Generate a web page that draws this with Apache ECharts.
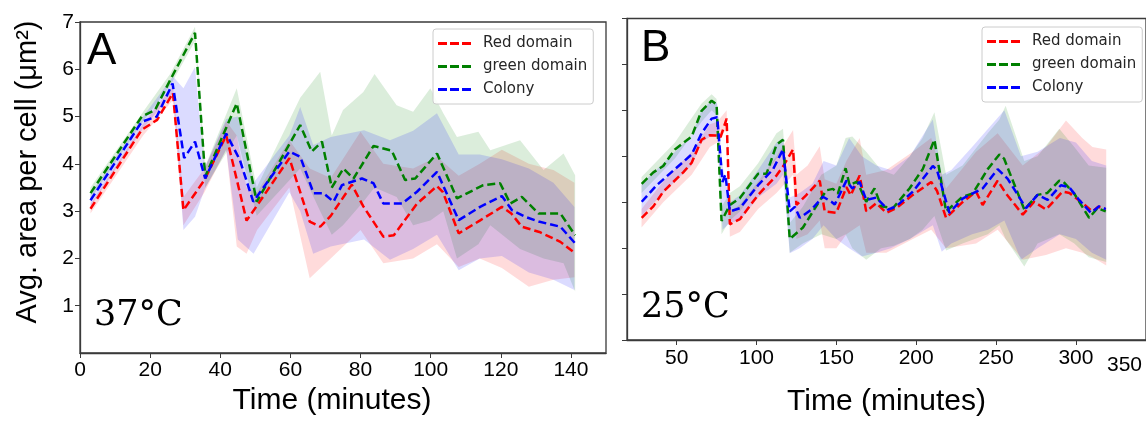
<!DOCTYPE html>
<html><head><meta charset="utf-8">
<script src="https://cdn.jsdelivr.net/npm/echarts@6/dist/echarts.min.js"></script>
<style>html,body{margin:0;padding:0;background:#fff}#c{width:1146px;height:422px}</style>
</head><body><div id="c"></div>
<script>
// ---------- Panel A (37°C) mean curves [time, area] ----------
const redA = [[3,3.05],[17.6,4.72],[22,4.93],[26.5,5.5],[29.5,3.02],[35.5,3.66],[41.7,4.6],[47.5,2.8],[50.5,3.12],[59.7,4.12],[65.5,2.78],[68.5,2.67],[71.5,2.9],[77.5,3.56],[80.8,3.1],[86.5,2.46],[89.5,2.49],[96,3.15],[101.8,3.53],[103.5,3.4],[108,2.53],[114,2.8],[120.3,3.09],[123,2.95],[126,2.67],[131,2.56],[137,2.35],[141,2.12]];
const greenA = [[3,3.38],[17.6,5.0],[21.4,5.14],[25.7,5.77],[32.8,6.77],[35.7,3.73],[44.7,5.28],[50.4,3.2],[62.8,4.82],[66.1,4.26],[69,4.47],[71.8,3.5],[75.1,3.9],[78,3.69],[83.7,4.38],[88.9,4.28],[92.7,3.66],[95.6,3.69],[101.8,4.22],[107.5,3.27],[115,3.55],[119.8,3.59],[122.7,3.16],[126,3.3],[130.8,2.95],[137,2.95],[141.2,2.49]];
const blueA = [[3,3.23],[17.6,4.89],[21.9,5.0],[26.4,5.7],[29.7,4.12],[32.8,4.47],[35.7,3.69],[41.7,4.64],[45.6,4.08],[49.4,3.2],[59.7,4.26],[62.8,4.15],[66.6,3.38],[69.4,3.38],[72.3,3.2],[74.7,3.55],[80.4,3.69],[83.7,3.59],[86.5,3.16],[91.8,3.16],[96.1,3.41],[101.8,3.83],[108,2.81],[114.1,3.09],[120.3,3.32],[123.2,3.02],[127,2.88],[130.8,2.78],[137,2.67],[141.2,2.32]];

// ---------- Panel A spread bands ----------
const redBandA_t  = [3, 18, 26.5, 29.5, 35.5, 41.7, 44.7, 47.5, 50.5, 59.7, 65.5, 71.5, 80, 86.5, 95, 101.8, 108, 114, 120.3, 128, 135, 141];
const redBandA_lo = [2.95,4.6,5.35,2.7,3.4,4.3,2.25,2.1,2.6,3.5,1.58,2.0,2.6,1.9,2.0,2.3,1.82,2.0,1.8,1.4,1.55,1.6];
const redBandA_hi = [3.15,4.85,5.65,3.3,3.9,4.9,4.6,3.5,3.4,4.5,3.9,3.7,4.68,4.0,3.9,4.15,3.75,4.0,4.3,4.0,3.87,3.6];

const blueBandA_t  = [3, 18, 26.5, 29.5, 32.8, 35.5, 41.7, 45, 49.5, 59.7, 62.8, 66.5, 71.5, 81, 88.4, 95, 101.8, 108, 114, 120.3, 128, 135, 141];
const blueBandA_lo = [3.1,4.75,5.5,2.6,2.88,3.45,4.3,2.4,2.1,3.4,3.0,2.1,2.25,2.4,1.97,2.2,2.5,1.75,2.0,2.05,1.7,1.55,1.33];
const blueBandA_hi = [3.35,5.0,5.85,5.6,6.05,3.9,4.95,5.0,3.6,4.6,5.2,4.4,4.57,4.71,4.5,4.7,5.07,4.2,4.2,4.1,3.9,3.6,3.09];

const greenBandA_t  = [3, 18, 25.7, 32.8, 35.7, 44.7, 50.4, 62.8, 68.5, 71.8, 75, 80.8, 84, 90.3, 95, 99.9, 103.6, 107.5, 113.6, 117, 125.5, 132.2, 137.9, 141.2];
const greenBandA_lo = [3.25,4.9,5.65,6.6,3.5,4.6,2.9,3.9,3.0,2.5,2.7,3.2,3.5,3.3,2.7,2.8,3.0,2.0,2.3,2.7,2.2,2.0,1.9,1.3];
const greenBandA_hi = [3.5,5.1,5.9,6.9,3.95,5.6,3.5,5.4,5.95,4.6,5.14,5.52,5.9,5.24,5.1,5.6,5.07,4.57,4.68,4.29,4.5,3.87,4.22,3.76];

// ---------- Panel B (25°C) mean curves ----------
const redB = [[28.1,2.66],[35.4,2.91],[41.6,3.23],[54.1,3.65],[59.4,3.86],[65.6,4.36],[70.8,4.46],[75.4,4.45],[77.5,4.42],[81.3,4.82],[83.3,2.52],[89.6,2.63],[101,3.16],[112.5,3.58],[117,3.8],[122.9,4.15],[125,2.94],[131,3.15],[139.6,3.47],[142.7,2.8],[150,2.77],[156.3,3.33],[159,3.15],[164.6,3.58],[168.7,2.8],[175,2.98],[181.3,2.77],[187.5,2.87],[197.9,3.16],[209.4,3.44],[213,3.25],[218.7,2.66],[229,3.0],[237.5,3.23],[241.6,2.94],[251,3.47],[256,3.2],[266.7,2.73],[273.9,3.01],[281.3,2.84],[291.6,3.23],[296,3.2],[304.1,2.98],[310.4,2.8],[314,2.9],[318.7,2.85]];
const greenB = [[28.1,3.4],[35.4,3.65],[41.6,3.79],[48.9,4.15],[59.4,4.43],[65.6,4.99],[71.9,5.21],[75,5.13],[78.1,2.59],[83.3,2.94],[89.6,3.09],[101,3.62],[106.3,3.62],[112.5,4.25],[116.6,4.36],[120.8,2.2],[129.1,2.45],[140.6,3.09],[143.8,3.26],[147.9,3.29],[151,3.19],[155.8,3.74],[158.3,3.37],[163,3.45],[168.7,3.01],[173.9,3.3],[178.1,2.91],[185.4,2.87],[195.8,3.3],[204.1,3.72],[211.4,4.36],[218.7,2.8],[229.1,3.12],[235.4,3.19],[244.8,3.72],[252.1,4.04],[255,3.95],[267.7,2.84],[276,3.16],[282,3.2],[289.6,3.47],[292,3.45],[298.9,3.19],[308.3,2.66],[313.5,2.87],[318.7,2.8]];
const blueB = [[28.1,3.01],[37.5,3.37],[48.9,3.72],[59.4,4.04],[65.6,4.5],[71.9,4.82],[75.4,4.85],[78.7,3.44],[80.5,3.6],[83.3,2.8],[89.6,2.87],[101,3.37],[110.4,3.72],[116.6,4.15],[120.8,2.8],[124,2.9],[127.1,2.66],[134.4,2.84],[141.6,3.12],[146.9,3.01],[149,2.95],[156.3,3.47],[160,3.3],[164.6,3.44],[168.7,3.05],[174.9,3.1],[182.3,2.84],[187.5,2.91],[197.9,3.23],[210.4,3.79],[213,3.7],[220.8,2.77],[229.1,3.08],[235.4,3.19],[241.6,3.3],[251,3.72],[257.3,3.51],[268.8,2.87],[276,3.16],[282.3,3.05],[290.6,3.37],[295.8,3.33],[302,3.05],[309.4,2.77],[314.6,2.91],[318.7,2.85]];

// ---------- Panel B spread bands ----------
const blueBandB_t  = [28, 41.6, 59.4, 65.6, 71.9, 75.4, 78.7, 83.3, 89.6, 101, 112.5, 116.6, 120.8, 127, 135, 142, 150, 158, 166, 175, 184, 196, 210.4, 216, 222, 235, 245, 255.2, 265.6, 276, 290, 300, 310, 319];
const blueBandB_lo = [2.7,3.2,3.8,4.3,4.45,4.5,2.4,2.55,2.6,3.1,3.4,3.6,1.89,2.0,2.2,2.5,2.2,2.0,1.82,1.9,2.0,2.2,2.5,1.92,2.1,2.3,2.4,2.6,1.75,2.0,2.3,2.2,1.9,1.75];
const blueBandB_hi = [3.4,3.85,4.45,5.0,5.22,5.15,3.8,3.0,3.15,3.7,4.3,4.4,3.1,3.2,3.4,3.9,3.8,4.4,4.0,3.8,3.7,4.0,4.8,3.6,3.7,4.2,4.6,5.0,4.0,4.1,4.4,4.3,3.9,3.8];

const greenBandB_t  = [28, 48.9, 65.6, 71.9, 75, 78.1, 83.3, 89.6, 101, 112.5, 116.6, 120.8, 129, 140.6, 150, 155.8, 160, 168.7, 178, 186, 196, 204, 211.4, 218.7, 229, 244.8, 252.1, 256, 267.7, 276, 289.6, 299, 308, 319];
const greenBandB_lo = [3.2,3.95,4.75,5.0,4.9,2.3,2.6,2.8,3.35,3.95,4.05,1.9,2.1,2.3,2.2,2.3,2.0,1.75,2.0,2.05,2.2,2.4,2.7,1.95,2.1,2.3,2.5,2.2,1.6,2.1,2.3,2.1,1.8,1.7];
const greenBandB_hi = [3.55,4.3,5.15,5.35,5.25,2.9,3.2,3.35,3.85,4.5,4.6,2.55,2.9,3.6,3.8,4.4,4.43,4.1,3.7,3.6,4.0,4.4,4.96,3.6,3.8,4.5,4.8,5.1,3.9,4.0,4.6,4.2,3.8,3.75];

const redBandB_t  = [28, 41.6, 59.4, 70.8, 75.4, 81.3, 83.3, 89.6, 101, 112.5, 122.9, 125, 132, 139.6, 142.7, 150, 156.3, 164.6, 168.7, 181.3, 197.9, 209.4, 218.7, 237.5, 251, 266.7, 281.3, 293.8, 304, 310.4, 319];
const redBandB_lo = [2.45,3.0,3.6,4.2,4.3,4.6,2.25,2.35,2.85,3.2,3.6,2.2,2.3,2.6,2.0,2.0,2.3,2.5,1.9,1.9,2.2,2.4,2.0,2.1,2.4,1.75,1.85,2.0,1.9,1.8,1.62];
const redBandB_hi = [2.85,3.45,4.1,4.7,4.75,5.0,2.8,2.95,3.45,4.0,4.57,3.6,3.8,4.22,3.5,3.4,3.9,4.4,3.6,3.7,4.1,4.4,3.3,4.1,4.5,3.8,4.2,4.78,4.4,4.2,4.15];

// ---------- Labels ----------
const seriesNames = ['Red domain', 'green domain', 'Colony'];
const colors = ['#ff0000', '#008000', '#0000ff'];
const xTicksB = [50, 100, 150, 200, 250, 300];
const xTitle = 'Time (minutes)';
const yTitle = 'Avg. area per cell (\u03bcm\u00b2)';

// ---------- Build chart ----------
const axisColor = '#3a3a3a';
const font = 'Liberation Sans, Arial, sans-serif';

function meanLine(name, data, color, gi) {
  return {
    type: 'line', name: name, data: data, xAxisIndex: gi, yAxisIndex: gi,
    symbol: 'none', showSymbol: false, z: 5, silent: true, animation: false,
    itemStyle: { color: color },
    lineStyle: { color: color, width: 2.5, type: [8, 4] }
  };
}
// Shaded spread: polygon through upper values forward, lower values backward,
// positioned with the axis scales via api.coord.
function band(id, t, lo, hi, color, gi) {
  return {
    type: 'custom', name: id, xAxisIndex: gi, yAxisIndex: gi, silent: true, animation: false, z: 1,
    data: t.map((x, i) => [x, lo[i], hi[i]]),
    encode: { x: 0, y: [1, 2] },
    renderItem: function (params, api) {
      if (params.dataIndex !== 0) return null;
      const pts = [];
      for (let i = 0; i < t.length; i++) pts.push(api.coord([t[i], hi[i]]));
      for (let i = t.length - 1; i >= 0; i--) pts.push(api.coord([t[i], lo[i]]));
      return { type: 'polygon', shape: { points: pts }, style: { fill: color } };
    }
  };
}
const bandAlpha = 0.14;
const bandCol = ['rgba(255,0,0,' + bandAlpha + ')', 'rgba(0,128,0,' + bandAlpha + ')', 'rgba(0,0,255,' + bandAlpha + ')'];

const series = [
  band('redA', redBandA_t, redBandA_lo, redBandA_hi, bandCol[0], 0),
  band('greenA', greenBandA_t, greenBandA_lo, greenBandA_hi, bandCol[1], 0),
  band('blueA', blueBandA_t, blueBandA_lo, blueBandA_hi, bandCol[2], 0),
  band('redB', redBandB_t, redBandB_lo, redBandB_hi, bandCol[0], 1),
  band('greenB', greenBandB_t, greenBandB_lo, greenBandB_hi, bandCol[1], 1),
  band('blueB', blueBandB_t, blueBandB_lo, blueBandB_hi, bandCol[2], 1),
  meanLine(seriesNames[0], redA, colors[0], 0),
  meanLine(seriesNames[1], greenA, colors[1], 0),
  meanLine(seriesNames[2], blueA, colors[2], 0),
  meanLine(seriesNames[0], redB, colors[0], 1),
  meanLine(seriesNames[1], greenB, colors[1], 1),
  meanLine(seriesNames[2], blueB, colors[2], 1)
];

function legend(left, top) {
  return {
    orient: 'vertical', left: left, top: top, data: seriesNames,
    icon: 'path://M0,0h9v3h-9z M12,0h9v3h-9z M24,0h9v3h-9z',
    itemWidth: 33, itemHeight: 3, itemGap: 8,
    padding: [7, 6, 7, 5],
    backgroundColor: 'rgba(255,255,255,0.85)', borderColor: '#cccccc', borderWidth: 1, borderRadius: 3,
    itemStyle: { borderWidth: 0 },
    selectedMode: false,
    textStyle: { fontFamily: 'DejaVu Sans', fontSize: 15, color: '#262626', padding: [0, 0, 0, 7] }
  };
}

const option = {
  backgroundColor: '#ffffff',
  animation: false,
  grid: [
    { left: 80, top: 22, width: 526, height: 331, show: true, borderColor: axisColor, borderWidth: 1.3 },
    { left: 627, top: 18.5, width: 520, height: 330.5, show: true, borderColor: axisColor, borderWidth: 1.3 }
  ],
  xAxis: [
    { gridIndex: 0, type: 'value', min: 0, max: 150, interval: 20,
      axisLine: { show: true, lineStyle: { color: axisColor, width: 1.3 } },
      axisTick: { show: true, length: 5, lineStyle: { color: axisColor } },
      axisLabel: { fontFamily: font, fontSize: 21, color: '#000', margin: 7, showMaxLabel: false },
      splitLine: { show: false },
      name: xTitle, nameLocation: 'middle', nameGap: 32,
      nameTextStyle: { fontFamily: font, fontSize: 30, color: '#000', padding: [0, 22, 0, 0] } },
    { gridIndex: 1, type: 'value', min: 18.9, max: 343.9,
      axisLine: { show: true, lineStyle: { color: axisColor, width: 1.3 } },
      axisTick: { show: true, length: 5, lineStyle: { color: axisColor }, customValues: xTicksB },
      axisLabel: { fontFamily: font, fontSize: 21, color: '#000', margin: 8, customValues: xTicksB },
      splitLine: { show: false },
      name: xTitle, nameLocation: 'middle', nameGap: 47,
      nameTextStyle: { fontFamily: font, fontSize: 30, color: '#000' } }
  ],
  yAxis: [
    { gridIndex: 0, type: 'value', min: 0, max: 7, interval: 1,
      axisLine: { show: true, lineStyle: { color: axisColor, width: 1.3 } },
      axisTick: { show: true, length: 5, lineStyle: { color: axisColor } },
      axisLabel: { fontFamily: font, fontSize: 21, color: '#000', margin: 6, showMinLabel: false },
      splitLine: { show: false },
      name: yTitle, nameLocation: 'middle', nameGap: 38, nameRotate: 90,
      nameTextStyle: { fontFamily: font, fontSize: 29, color: '#000', padding: [0, 0, 0, 31] } },
    { gridIndex: 1, type: 'value', min: 0, max: 7, interval: 1,
      axisLine: { show: true, lineStyle: { color: axisColor, width: 1.3 } },
      axisTick: { show: true, length: 5, lineStyle: { color: axisColor } },
      axisLabel: { show: false },
      splitLine: { show: false } }
  ],
  legend: [legend(433, 29), legend(982, 27)],
  graphic: [
    { type: 'text', left: 87, top: 30, style: { text: 'A', fontFamily: font, fontSize: 44, fill: '#000' } },
    { type: 'text', left: 641, top: 27, style: { text: 'B', fontFamily: font, fontSize: 44, fill: '#000' } },
    { type: 'text', left: 94, top: 298, style: { text: '37\u00b0C', fontFamily: 'DejaVu Serif', fontSize: 35, fill: '#000' } },
    { type: 'text', left: 641, top: 290, style: { text: '25\u00b0C', fontFamily: 'DejaVu Serif', fontSize: 35, fill: '#000' } },
    { type: 'text', left: 1107, top: 355, style: { text: '350', fontFamily: font, fontSize: 21, fill: '#000' } }
  ],
  series: series
};
const chart = echarts.init(document.getElementById('c'), null, { renderer: 'canvas' });
chart.setOption(option);
</script>
</body></html>
